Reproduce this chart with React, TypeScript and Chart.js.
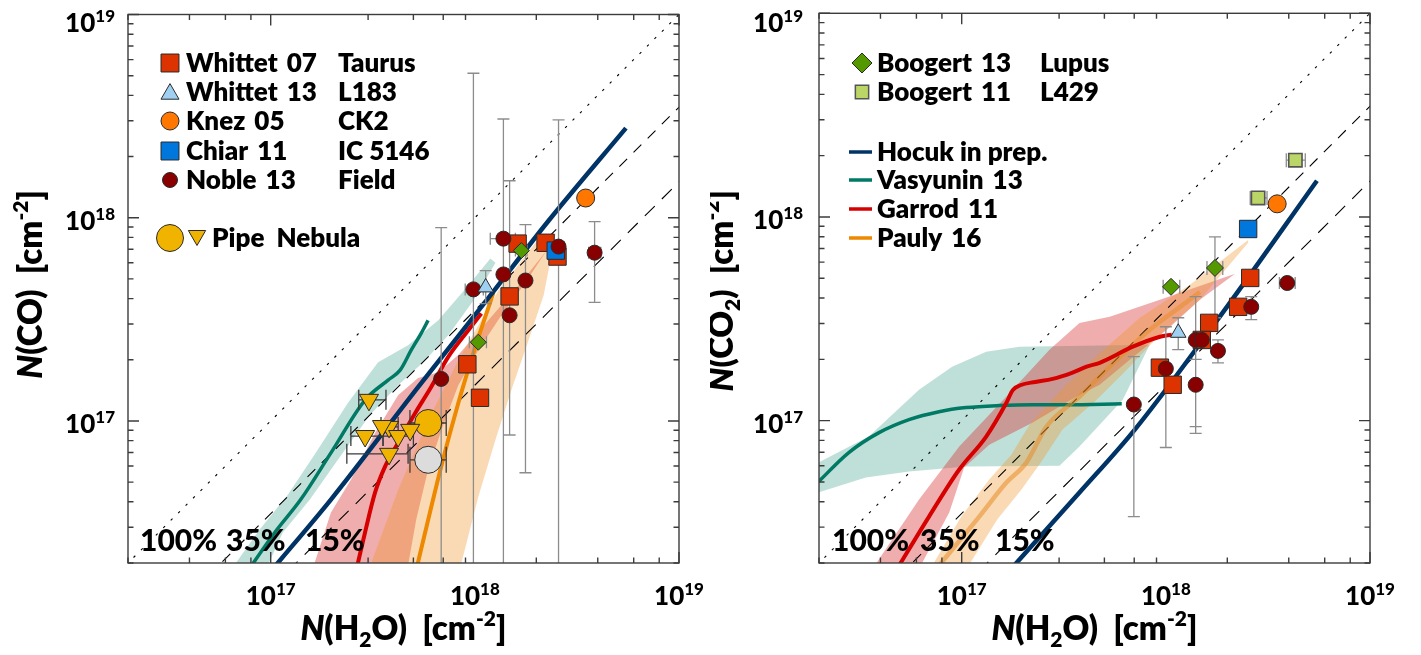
import React, { useEffect, useRef } from 'react';
import { Chart, registerables } from 'chart.js';
import { drawPoint } from 'chart.js/helpers';

Chart.register(...registerables);

const FAMILY = 'Lato, "DejaVu Sans", sans-serif';

/* ---------------- axes ---------------- */
const AXIS_MIN = 2e16;
const AXIS_MAX = 1e19;
const TICK_DECADES = [16, 17, 18];
const TICK_MANTISSAS = [1, 2, 3, 4, 5, 6, 7, 8, 9];
const LABEL_EXPONENTS = [17, 18, 19];
const RATIOS = [1, 0.35, 0.15];
const RATIO_LABELS = ['100%', '35%', '15%'];

/* ---------------- left panel : N(CO) vs N(H2O) ---------------- */
// observations [N(H2O), N(CO)]
const CO_WHITTET07 = [
  [1.62e18, 7.46e17], [2.22e18, 7.53e17], [2.54e18, 6.44e17],
  [1.48e18, 4.10e17], [9.19e17, 1.90e17], [1.06e18, 1.30e17],
];
const CO_WHITTET13 = [[1.13e18, 4.54e17]];
const CO_WHITTET13_YERR = [[1.13e18, 3.78e17, 5.49e17]];
const CO_KNEZ = [[3.49e18, 1.25e18]];
const CO_CHIAR = [[2.49e18, 6.89e17]];
const CO_NOBLE = [
  [1.38e18, 7.89e17], [1.38e18, 5.26e17], [1.77e18, 4.91e17], [1.48e18, 3.31e17],
  [9.84e17, 4.44e17], [6.84e17, 1.61e17], [2.57e18, 7.21e17], [3.86e18, 6.73e17],
];
// [x, low, high]
const CO_NOBLE_YERR = [
  [1.38e18, 1e15, 3.06e18], [1.77e18, 5.56e16, 9.25e17], [1.48e18, 8.53e16, 1.52e18],
  [9.84e17, 1e15, 5.14e18], [6.84e17, 1e15, 8.93e17], [2.57e18, 1e15, 3.03e18],
  [3.86e18, 3.83e17, 9.56e17],
];
// [y, low, high]
const CO_NOBLE_XERR = [
  [7.89e17, 1.19e18, 1.58e18], [4.44e17, 8.97e17, 1.10e18], [6.73e17, 3.61e18, 4.14e18],
];
const CO_BOOGERT13 = [[1.69e18, 6.89e17], [1.04e18, 2.44e17]];
const CO_BOOGERT13_XERR = [[2.44e17, 9.4e17, 1.14e18], [6.89e17, 1.58e18, 1.80e18]];
const CO_PIPE_DETECTION = [[5.91e17, 9.77e16]];
const CO_PIPE_GREY = [[5.91e17, 6.44e16]];
const CO_PIPE_CIRCLE_XERR = [[9.77e16, 4.81e17, 7.24e17], [6.44e16, 4.81e17, 7.24e17]];
const CO_PIPE_TRIANGLES = [
  [3.03e17, 1.27e17], [2.90e17, 8.43e16], [3.80e17, 9.35e16], [3.51e17, 9.44e16],
  [4.21e17, 8.43e16], [4.82e17, 9.04e16], [3.80e17, 6.89e16],
];
const CO_PIPE_TRIANGLES_XERR = [
  [1.27e17, 2.70e17, 3.67e17], [8.43e16, 2.47e17, 3.55e17], [9.35e16, 3.47e17, 4.21e17],
  [8.43e16, 3.55e17, 5.0e17], [6.89e16, 2.36e17, 4.71e17],
];
// models, [log10 N(H2O), log10 N(CO)]
const CO_HOCUK_LOG = [[17.0, 16.26], [17.295, 16.613], [17.722, 17.167], [18.057, 17.593], [18.361, 17.985], [18.74, 18.441]];
const CO_VASYUNIN_LOG = [
  [16.88, 16.25], [17.02, 16.451], [17.147, 16.613], [17.295, 16.843], [17.462, 17.103],
  [17.575, 17.201], [17.634, 17.25], [17.688, 17.348], [17.737, 17.431], [17.771, 17.495],
];
const CO_VASYUNIN_BAND_LOG = [
  [16.79, 16.245], [16.946, 16.466], [17.084, 16.637], [17.221, 16.843], [17.378, 17.088],
  [17.526, 17.289], [17.673, 17.373], [17.821, 17.495], [17.968, 17.667], [18.076, 17.799],
  [18.101, 17.779], [17.993, 17.593], [17.87, 17.422], [17.747, 17.289], [17.624, 17.176],
  [17.486, 17.029], [17.329, 16.809], [17.192, 16.613], [17.059, 16.451], [16.966, 16.245],
];
const CO_GARROD_LOG = [
  [17.42, 16.27], [17.462, 16.451], [17.511, 16.647], [17.56, 16.775], [17.624, 16.892],
  [17.708, 17.039], [17.786, 17.167], [17.869, 17.314], [17.968, 17.446], [18.032, 17.529],
];
const CO_GARROD_BAND_LOG = [
  [17.197, 16.245], [17.295, 16.549], [17.393, 16.711], [17.511, 16.941], [17.624, 17.127],
  [17.722, 17.211], [17.821, 17.24], [17.919, 17.324], [18.066, 17.495], [18.214, 17.667],
  [18.351, 17.838], [18.238, 17.667], [18.13, 17.52], [18.017, 17.348], [17.919, 17.176],
  [17.845, 16.98], [17.771, 16.76], [17.713, 16.515], [17.665, 16.245],
];
const CO_PAULY_LOG = [[17.711, 16.26], [17.835, 16.775], [17.919, 17.088], [18.002, 17.363], [18.091, 17.632]];
const CO_PAULY_BAND_LOG = [
  [17.472, 16.245], [17.624, 16.662], [17.771, 17.005], [17.919, 17.299], [18.115, 17.642],
  [18.312, 17.897], [18.396, 17.922], [18.337, 17.618], [18.263, 17.397], [18.179, 17.152],
  [18.101, 16.907], [18.017, 16.627], [17.92, 16.245],
];

/* ---------------- right panel : N(CO2) vs N(H2O) ---------------- */
const CO2_BOOGERT13 = [[1.74e18, 5.62e17], [1.06e18, 4.54e17]];
const CO2_BOOGERT13_YERR = [[1.74e18, 3.2e17, 7.98e17]];
const CO2_BOOGERT13_XERR = [[5.62e17, 1.59e18, 1.90e18], [4.54e17, 9.7e17, 1.17e18]];
const CO2_BOOGERT11 = [[4.31e18, 1.90e18], [2.83e18, 1.24e18]];
const CO2_BOOGERT11_XERR = [[1.90e18, 3.89e18, 4.82e18], [1.24e18, 2.59e18, 3.13e18]];
const CO2_BOOGERT11_YERR = [[4.31e18, 1.78e18, 2.02e18], [2.83e18, 1.17e18, 1.32e18]];
const CO2_KNEZ = [[3.51e18, 1.16e18]];
const CO2_CHIAR = [[2.53e18, 8.73e17]];
const CO2_WHITTET07 = [
  [2.59e18, 5.02e17], [2.26e18, 3.62e17], [1.63e18, 3.02e17],
  [1.50e18, 2.49e17], [9.35e17, 1.82e17], [1.08e18, 1.50e17],
];
const CO2_WHITTET13 = [[1.15e18, 2.70e17]];
const CO2_WHITTET13_YERR = [[1.15e18, 2.23e17, 3.2e17]];
const CO2_NOBLE = [
  [3.93e18, 4.74e17], [2.62e18, 3.62e17], [1.40e18, 2.49e17], [1.50e18, 2.49e17],
  [1.80e18, 2.20e17], [1.00e18, 1.80e17], [1.40e18, 1.50e17], [6.97e17, 1.20e17],
];
const CO2_NOBLE_YERR = [
  [2.62e18, 3.13e17, 4.06e17], [1.40e18, 9.35e16, 4.06e17], [1.80e18, 1.92e17, 2.49e17],
  [1.00e18, 7.38e16, 2.89e17], [1.40e18, 8.66e16, 2.0e17], [6.97e17, 3.38e16, 2.06e17],
];
const CO2_NOBLE_XERR = [[4.74e17, 3.6e18, 4.3e18]];
const CO2_HOCUK_LOG = [[17.24, 16.27], [17.577, 16.647], [17.848, 16.956], [18.3, 17.56], [18.74, 18.178]];
const CO2_VASYUNIN_LOG = [
  [16.25, 16.65], [16.3, 16.701], [16.447, 16.843], [16.595, 16.941], [16.742, 17.005],
  [16.889, 17.044], [17.022, 17.064], [17.184, 17.074], [17.346, 17.078], [17.514, 17.078],
  [17.784, 17.083],
];
const CO2_VASYUNIN_BAND_LOG = [
  [16.251, 16.77], [16.545, 16.922], [16.791, 17.152], [16.953, 17.265], [17.12, 17.338],
  [17.283, 17.363], [17.921, 17.373], [17.789, 17.103], [17.577, 16.873], [17.479, 16.779],
  [17.022, 16.775], [16.742, 16.75], [16.53, 16.721], [16.251, 16.632],
];
const CO2_GARROD_LOG = [
  [16.676, 16.26], [16.84, 16.529], [16.988, 16.76], [17.12, 16.922], [17.219, 17.088],
  [17.25, 17.15], [17.29, 17.175], [17.36, 17.19], [17.445, 17.205], [17.54, 17.235],
  [17.612, 17.265], [17.676, 17.284], [17.838, 17.363], [17.971, 17.412], [18.029, 17.422],
];
const CO2_GARROD_BAND_LOG = [
  [16.545, 16.245], [16.791, 16.613], [16.988, 16.873], [17.219, 17.118], [17.43, 17.348],
  [17.577, 17.48], [17.725, 17.51], [17.971, 17.593], [18.339, 17.721], [18.167, 17.593],
  [18.005, 17.446], [17.823, 17.299], [17.676, 17.176], [17.563, 17.118], [17.346, 16.99],
  [17.135, 16.882], [17.012, 16.77], [16.939, 16.549], [16.776, 16.245],
];
const CO2_PAULY_LOG = [
  [16.853, 16.245], [17.086, 16.529], [17.219, 16.696], [17.317, 16.794], [17.415, 16.971],
  [17.577, 17.118], [17.725, 17.265], [17.921, 17.446], [18.103, 17.583], [18.167, 17.632],
];
const CO2_PAULY_BAND_LOG = [
  [16.83, 16.245], [16.998, 16.529], [17.135, 16.711], [17.243, 16.833], [17.332, 16.98],
  [17.489, 17.152], [17.651, 17.309], [17.872, 17.505], [18.118, 17.667], [18.403, 17.887],
  [18.403, 17.873], [18.167, 17.593], [17.971, 17.422], [17.799, 17.24], [17.651, 17.093],
  [17.494, 16.956], [17.391, 16.799], [17.293, 16.662], [17.174, 16.515], [17.007, 16.245],
];

/* ---------------- styles ---------------- */
const NAVY = '#003366';
const TEAL = '#007a64';
const RED = '#d60000';
const ORANGE = '#ee8800';
const TEAL_BAND = 'rgba(0,128,104,0.25)';
const RED_BAND = 'rgba(215,40,40,0.38)';
const ORANGE_BAND = 'rgba(240,150,40,0.35)';
const C_WHITTET07 = '#dd3300';
const C_WHITTET13 = '#9fd0f2';
const C_KNEZ = '#ff7700';
const C_CHIAR = '#0077dd';
const C_NOBLE = '#880000';
const C_PIPE = '#efb300';
const C_PIPE_GREY = '#dcdcdc';
const C_BOOGERT13 = '#559900';
const C_BOOGERT11 = '#bbd666';
const GREY_BAR = '#8c8c8c';
const DARK_BAR = '#3a3a3a';

/* ---------------- dataset builders ---------------- */
const pairs = (a: number[][]) => a.map(([x, y]) => ({ x, y }));
const logPairs = (a: number[][]) => a.map(([lx, ly]) => ({ x: 10 ** lx, y: 10 ** ly }));

function points(data: number[][], shape: string, r: number, fill: string, order: number, extra: any = {}) {
  return {
    type: 'line', data: pairs(data), showLine: false, order,
    pointStyle: shape, pointRadius: r, pointRotation: extra.rot || 0,
    pointBackgroundColor: fill, pointBorderColor: extra.stroke || '#2a2a2a',
    pointBorderWidth: extra.bw ?? 1,
  };
}
function curve(data: number[][], color: string, width: number, order: number) {
  return {
    type: 'line', data: logPairs(data), borderColor: color, borderWidth: width,
    pointRadius: 0, fill: false, tension: 0.4, cubicInterpolationMode: 'monotone',
    order, borderCapStyle: 'butt',
  };
}
function band(data: number[][], color: string, order: number) {
  return {
    type: 'line', data: logPairs(data), borderColor: 'rgba(0,0,0,0)', borderWidth: 0,
    backgroundColor: color, fill: 'shape', pointRadius: 0, tension: 0, order,
  };
}
function errY(data: number[][], color: string, cap: number, order: number) {
  const d = data.flatMap(([x, lo, hi]) => [{ x, y: lo }, { x, y: hi }, { x, y: null }]);
  return {
    type: 'line', data: d, borderColor: color, borderWidth: 1.3, spanGaps: false, order,
    pointStyle: 'line', pointRadius: d.map((p) => (p.y === null ? 0 : cap)),
    pointBorderColor: color, pointBorderWidth: 1.3, pointRotation: 0, fill: false,
  };
}
function errX(data: number[][], color: string, cap: number, order: number) {
  const d = data.flatMap(([y, lo, hi]) => [{ x: lo, y }, { x: hi, y }, { x: lo, y: null }]);
  return {
    type: 'line', data: d, borderColor: color, borderWidth: 1.3, spanGaps: false, order,
    pointStyle: 'line', pointRadius: d.map((p) => (p.y === null ? 0 : cap)),
    pointBorderColor: color, pointBorderWidth: 1.3, pointRotation: 90, fill: false,
  };
}
function ratioLines() {
  const dashes = [[2.5, 8], [11, 9], [14, 10]];
  return RATIOS.map((r, i) => ({
    type: 'line',
    data: [{ x: AXIS_MIN / 2, y: (r * AXIS_MIN) / 2 }, { x: AXIS_MAX * 2, y: r * AXIS_MAX * 2 }],
    borderColor: '#000', borderWidth: 1.1, borderDash: dashes[i], pointRadius: 0, fill: false,
    order: 90 - i,
  }));
}

function leftDatasets() {
  return [
    band(CO_VASYUNIN_BAND_LOG, TEAL_BAND, 103),
    band(CO_GARROD_BAND_LOG, RED_BAND, 102),
    band(CO_PAULY_BAND_LOG, ORANGE_BAND, 101),
    ...ratioLines(),
    curve(CO_VASYUNIN_LOG, TEAL, 3.5, 84),
    curve(CO_GARROD_LOG, RED, 4, 83),
    curve(CO_PAULY_LOG, ORANGE, 4, 82),
    curve(CO_HOCUK_LOG, NAVY, 4.5, 81),
    errY(CO_NOBLE_YERR, GREY_BAR, 6, 60),
    errX(CO_NOBLE_XERR, GREY_BAR, 6, 59),
    errY(CO_WHITTET13_YERR, GREY_BAR, 6, 58),
    errX(CO_BOOGERT13_XERR, GREY_BAR, 6, 57),
    errX(CO_PIPE_CIRCLE_XERR, DARK_BAR, 13, 56),
    errX(CO_PIPE_TRIANGLES_XERR, DARK_BAR, 10, 55),
    points(CO_PIPE_GREY, 'circle', 13.5, C_PIPE_GREY, 40),
    points(CO_PIPE_DETECTION, 'circle', 13.5, C_PIPE, 39),
    points(CO_PIPE_TRIANGLES, 'triangle', 11, C_PIPE, 38, { rot: 180 }),
    points(CO_WHITTET07, 'rect', 12.3, C_WHITTET07, 37),
    points(CO_CHIAR, 'rect', 12.3, C_CHIAR, 36),
    points(CO_NOBLE, 'circle', 7.5, C_NOBLE, 35),
    points(CO_WHITTET13, 'triangle', 9, C_WHITTET13, 34),
    points(CO_BOOGERT13, 'rectRot', 8, C_BOOGERT13, 33),
    points(CO_KNEZ, 'circle', 9, C_KNEZ, 32),
  ];
}

function rightDatasets() {
  return [
    band(CO2_VASYUNIN_BAND_LOG, TEAL_BAND, 103),
    band(CO2_GARROD_BAND_LOG, RED_BAND, 102),
    band(CO2_PAULY_BAND_LOG, ORANGE_BAND, 101),
    ...ratioLines(),
    curve(CO2_VASYUNIN_LOG, TEAL, 3.5, 84),
    curve(CO2_PAULY_LOG, 'rgba(232,140,40,0.55)', 4.5, 83),
    curve(CO2_GARROD_LOG, RED, 4, 82),
    curve(CO2_HOCUK_LOG, NAVY, 4.5, 81),
    errY(CO2_NOBLE_YERR, GREY_BAR, 6, 60),
    errX(CO2_NOBLE_XERR, GREY_BAR, 6, 59),
    errY(CO2_WHITTET13_YERR, GREY_BAR, 6, 58),
    errY(CO2_BOOGERT13_YERR, GREY_BAR, 6, 57),
    errX(CO2_BOOGERT13_XERR, GREY_BAR, 7, 56),
    errX(CO2_BOOGERT11_XERR, GREY_BAR, 7, 55),
    errY(CO2_BOOGERT11_YERR, GREY_BAR, 7, 54),
    points(CO2_WHITTET07, 'rect', 12.3, C_WHITTET07, 40),
    points(CO2_NOBLE, 'circle', 7.5, C_NOBLE, 39),
    points(CO2_WHITTET13, 'triangle', 9, C_WHITTET13, 38),
    points(CO2_CHIAR, 'rect', 12.3, C_CHIAR, 37),
    points(CO2_BOOGERT13, 'rectRot', 8.5, C_BOOGERT13, 36),
    points(CO2_BOOGERT11, 'rect', 9.4, C_BOOGERT11, 35, { stroke: '#555', bw: 1.6 }),
    points(CO2_KNEZ, 'circle', 9, C_KNEZ, 34),
  ];
}

/* ---------------- decorations (frame, ticks, labels, legend) ---------------- */
type Seg = { t: string; size: number; italic?: boolean; dy?: number; w?: number };
const segFont = (s: Seg) => `${s.italic ? 'italic ' : ''}${s.w || 800} ${s.size}px ${FAMILY}`;
function richWidth(ctx: CanvasRenderingContext2D, segs: Seg[]) {
  let w = 0;
  for (const s of segs) { ctx.font = segFont(s); w += ctx.measureText(s.t).width; }
  return w;
}
function drawRich(ctx: CanvasRenderingContext2D, segs: Seg[], x: number, y: number, align: string) {
  const w = richWidth(ctx, segs);
  let cx = align === 'left' ? x : align === 'center' ? x - w / 2 : x - w;
  ctx.textAlign = 'left';
  ctx.textBaseline = 'alphabetic';
  for (const s of segs) {
    ctx.font = segFont(s);
    ctx.fillText(s.t, cx, y + (s.dy || 0));
    cx += ctx.measureText(s.t).width;
  }
}
const isDecade = (v: number) => { const l = Math.log10(v); return Math.abs(l - Math.round(l)) < 1e-6; };
const TICK_VALUES = TICK_DECADES.flatMap((d) => TICK_MANTISSAS.map((m) => m * 10 ** d))
  .filter((v) => v >= AXIS_MIN * 0.999).concat([AXIS_MAX]);

function makeDecor(spec: any) {
  return {
    id: 'decor',
    afterDatasetsDraw(chart: any) {
      const ctx: CanvasRenderingContext2D = chart.ctx;
      const a = chart.chartArea;
      const xs = chart.scales.x;
      const ys = chart.scales.y;
      ctx.save();
      ctx.setLineDash([]);
      ctx.strokeStyle = '#3c3c3c';
      ctx.lineWidth = 1.4;
      ctx.strokeRect(a.left, a.top, a.right - a.left, a.bottom - a.top);
      ctx.beginPath();
      for (const t of xs.ticks) {
        const p = xs.getPixelForValue(t.value);
        const L = isDecade(t.value) ? 11 : 5.5;
        ctx.moveTo(p, a.bottom); ctx.lineTo(p, a.bottom - L);
        ctx.moveTo(p, a.top); ctx.lineTo(p, a.top + L);
      }
      for (const t of ys.ticks) {
        const p = ys.getPixelForValue(t.value);
        const L = isDecade(t.value) ? 11 : 5.5;
        ctx.moveTo(a.left, p); ctx.lineTo(a.left + L, p);
        ctx.moveTo(a.right, p); ctx.lineTo(a.right - L, p);
      }
      ctx.stroke();

      ctx.fillStyle = '#000';
      for (const e of LABEL_EXPONENTS) {
        const v = 10 ** e;
        const segs: Seg[] = [{ t: '10', size: 26, w: 900 }, { t: String(e), size: 17, dy: -10, w: 900 }];
        drawRich(ctx, segs, xs.getPixelForValue(v), 605, 'center');
        drawRich(ctx, segs, spec.yLabelRight, Math.max(ys.getPixelForValue(v) + 12, 32), 'right');
      }
      // axis titles
      drawRich(ctx, spec.xTitle, (a.left + a.right) / 2, 640, 'center');
      ctx.save();
      ctx.translate(spec.yTitleX, 190);
      ctx.rotate(-Math.PI / 2);
      drawRich(ctx, spec.yTitle, 0, 0, 'right');
      ctx.restore();
      // ratio labels
      ctx.font = `900 30px ${FAMILY}`;
      ctx.textAlign = 'left';
      ctx.textBaseline = 'alphabetic';
      RATIO_LABELS.forEach((lab, i) => ctx.fillText(lab, spec.ratioX[i], 551));
      // legend
      for (const row of spec.legend) {
        for (const m of row.markers || []) {
          ctx.fillStyle = m.fill;
          ctx.strokeStyle = m.stroke || '#2a2a2a';
          ctx.lineWidth = m.bw || 1;
          drawPoint(ctx, { pointStyle: m.shape, radius: m.r, rotation: m.rot || 0, borderWidth: m.bw || 1 } as any, m.x, row.y + (m.dy || 0));
        }
        if (row.line) {
          ctx.strokeStyle = row.line;
          ctx.lineWidth = 3.5;
          ctx.beginPath();
          ctx.moveTo(spec.lineX0, row.y);
          ctx.lineTo(spec.lineX1, row.y);
          ctx.stroke();
        }
        ctx.fillStyle = '#000';
        ctx.font = `800 26px ${FAMILY}`;
        ctx.textAlign = 'left';
        ctx.textBaseline = 'alphabetic';
        const tx = row.textX ?? spec.textX;
        const by = row.y + 9;
        ctx.fillText(row.name, tx, by);
        if (row.year) ctx.fillText(row.year, tx + ctx.measureText(row.name).width + 9, by);
        if (row.region) ctx.fillText(row.region, spec.regionX, by);
      }
      ctx.restore();
    },
  };
}

const LEFT_SPEC = {
  width: 710,
  padding: { left: 128, right: 31, top: 13, bottom: 92 },
  yLabelRight: 115,
  ratioX: [140, 226, 305],
  yTitleX: 42,
  xTitle: [
    { t: 'N', size: 33, italic: true }, { t: '(H', size: 33 }, { t: '2', size: 21, dy: 7 },
    { t: 'O)  [cm', size: 33 }, { t: '-2', size: 21, dy: -14 }, { t: ']', size: 33 },
  ],
  yTitle: [
    { t: 'N', size: 33, italic: true }, { t: '(CO)  [cm', size: 33 },
    { t: '-2', size: 21, dy: -14 }, { t: ']', size: 33 },
  ],
  textX: 186,
  regionX: 338,
  legend: [
    { y: 63, markers: [{ shape: 'rect', r: 12.7, fill: C_WHITTET07, x: 170 }], name: 'Whittet', year: '07', region: 'Taurus' },
    { y: 92, markers: [{ shape: 'triangle', r: 10.4, fill: C_WHITTET13, x: 170, dy: 2 }], name: 'Whittet', year: '13', region: 'L183' },
    { y: 121, markers: [{ shape: 'circle', r: 9, fill: C_KNEZ, x: 170 }], name: 'Knez', year: '05', region: 'CK2' },
    { y: 151, markers: [{ shape: 'rect', r: 12.7, fill: C_CHIAR, x: 170 }], name: 'Chiar', year: '11', region: 'IC 5146' },
    { y: 180, markers: [{ shape: 'circle', r: 7.5, fill: C_NOBLE, x: 170 }], name: 'Noble', year: '13', region: 'Field' },
    {
      y: 238, textX: 212, name: 'Pipe  Nebula',
      markers: [
        { shape: 'circle', r: 13.5, fill: C_PIPE, x: 170 },
        { shape: 'triangle', r: 10, rot: 180, fill: C_PIPE, x: 197, dy: -2.5 },
      ],
    },
  ],
};

const RIGHT_SPEC = {
  width: 711,
  padding: { left: 109, right: 51, top: 13, bottom: 92 },
  yLabelRight: 93,
  ratioX: [122, 210, 285],
  yTitleX: 23,
  xTitle: LEFT_SPEC.xTitle,
  yTitle: [
    { t: 'N', size: 33, italic: true }, { t: '(CO', size: 33 }, { t: '2', size: 21, dy: 7 },
    { t: ')  [cm', size: 33 }, { t: '-2', size: 21, dy: -14 }, { t: ']', size: 33 },
  ],
  textX: 167,
  regionX: 330,
  lineX0: 139,
  lineX1: 162,
  legend: [
    { y: 63, markers: [{ shape: 'rectRot', r: 10, fill: C_BOOGERT13, x: 152 }], name: 'Boogert', year: '13', region: 'Lupus' },
    { y: 92, markers: [{ shape: 'rect', r: 9.4, fill: C_BOOGERT11, x: 152, stroke: '#555', bw: 1.5 }], name: 'Boogert', year: '11', region: 'L429' },
    { y: 152, line: NAVY, name: 'Hocuk in prep.' },
    { y: 180, line: TEAL, name: 'Vasyunin', year: '13' },
    { y: 209, line: RED, name: 'Garrod', year: '11' },
    { y: 238, line: ORANGE, name: 'Pauly', year: '16' },
  ],
};

function Panel({ spec, datasets, left }: { spec: any; datasets: () => any[]; left: number }) {
  const ref = useRef<HTMLCanvasElement>(null);
  useEffect(() => {
    if (!ref.current) return;
    const axis = {
      type: 'logarithmic', min: AXIS_MIN, max: AXIS_MAX, display: false,
      afterBuildTicks: (scale: any) => { scale.ticks = TICK_VALUES.map((value) => ({ value })); },
    };
    const chart = new Chart(ref.current, {
      type: 'line',
      data: { datasets: datasets() as any },
      options: {
        responsive: false,
        animation: false,
        devicePixelRatio: 1,
        events: [],
        layout: { padding: spec.padding },
        plugins: { legend: { display: false }, tooltip: { enabled: false } },
        scales: { x: axis as any, y: { ...axis } as any },
      },
      plugins: [makeDecor(spec)],
    } as any);
    return () => chart.destroy();
  }, []);
  return (
    <canvas
      ref={ref}
      width={spec.width}
      height={655}
      style={{ position: 'absolute', left, top: 0, width: spec.width, height: 655 }}
    />
  );
}

export default function App() {
  return (
    <div style={{ position: 'absolute', left: 0, top: 0, width: 1421, height: 655, background: '#fff', overflow: 'hidden' }}>
      <Panel spec={LEFT_SPEC} datasets={leftDatasets} left={0} />
      <Panel spec={RIGHT_SPEC} datasets={rightDatasets} left={710} />
    </div>
  );
}
